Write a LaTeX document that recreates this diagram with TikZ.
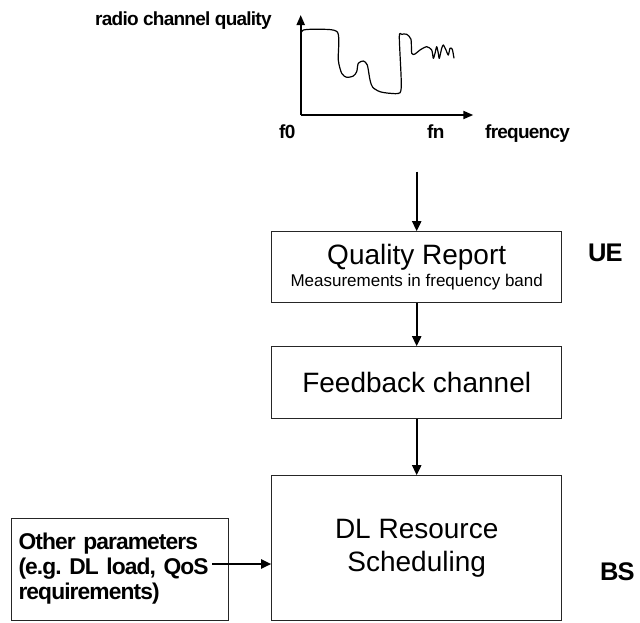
\documentclass[tikz,border=0pt]{standalone}
\usepackage{fontspec}
\setmainfont{Liberation Sans}
\newfontfamily\lblfont[LetterSpace=-4]{Liberation Sans}
\usetikzlibrary{arrows.meta}

\begin{document}
\begin{tikzpicture}[x=1pt,y=-1pt,
  box/.style={draw=black!85, line width=1pt, minimum width=290pt, inner sep=0pt, align=center},
  flow/.style={line width=2pt, -{Triangle[length=10pt,width=9pt]}},
  axis/.style={line width=2pt, -{Triangle[length=10pt,width=8pt]}},
  curve/.style={line width=1.2pt, line join=round},
  lbl/.style={font=\lblfont\bfseries\fontsize{19}{19}\selectfont, inner sep=0pt, anchor=base west},
  side/.style={font=\lblfont\bfseries\fontsize{25.5}{25.5}\selectfont, inner sep=0pt, anchor=base west}]
\useasboundingbox (0,0) rectangle (640,622);

% quality plot
\coordinate (origin) at (300.7,115);
\coordinate (ytip) at (300.7,15);
\coordinate (xtip) at (473.3,115);
\draw[axis] (origin) -- (ytip);
\draw[axis] (origin) -- (xtip);
\draw[curve] plot[smooth, tension=0.45] coordinates {
  (301.2,33.3) (303.3,30) (316.7,29.3) (337.5,32.2) (338.3,60) (341.7,73.3)
  (346.7,77.3) (353.3,76) (356.7,71.7) (358.3,63.3) (363.3,61) (367.3,65)
  (370,80) (372.7,87.3) (380,91.7) (390,93.3) (400,92.7) (401.2,80)
  (399.3,36.7) (401.7,34.3) (406.7,34.3) (411,39.3) (411.7,53.3) (415,54)
  (420,50) (426.7,46.7) (431.7,50) (433.3,58.3) (435,53.3) (436.7,46.7)
  (438.3,53.3) (439.3,58.3) (441.7,48.3) (443.3,45) (446,50) (448.3,55)
  (450,48.3) (452.3,49.3) (454,58.3)};
\node[lbl] (ylabel) at (95,25) {radio channel quality};
\node[lbl] (f0) at (279,138.3) {f0};
\node[lbl] (fn) at (427,138.3) {fn};
\node[lbl] (xlabel) at (485,138.3) {frequency};

% processing chain
\node[box, minimum height=71pt, font=\fontsize{28}{22.4}\selectfont] (qr) at (416.7,267.2)
  {Quality Report\\\fontsize{17}{22.4}\selectfont Measurements in frequency band};
\node[box, minimum height=71.6pt, font=\fontsize{28}{33.3}\selectfont] (fb) at (416.7,382.5)
  {Feedback channel};
\node[box, minimum height=145pt, font=\fontsize{28}{33.3}\selectfont] (dl) at (416.7,548.2)
  {DL Resource\\Scheduling};
\node[draw=black!85, line width=1pt, minimum width=216.6pt, minimum height=102pt,
  inner xsep=6.5pt, inner ysep=0pt, text width=203pt, align=left,
  font=\lblfont\bfseries\fontsize{22.8}{25}\selectfont] (op) at (120,569)
  {Other parameters\\(e.g.\ DL load, QoS\\requirements)};

\node[side] (ue) at (588,261.7) {UE};
\node[side] (bs) at (600,580) {BS};

\coordinate (meas) at (416.7,171.7);
\coordinate (opout) at (212,564);
\draw[flow] (meas) -- (qr.north);
\draw[flow] (qr.south) -- (fb.north);
\draw[flow] (fb.south) -- (dl.north);
\draw[flow] (opout) -- (opout -| dl.west);
\end{tikzpicture}
\end{document}
